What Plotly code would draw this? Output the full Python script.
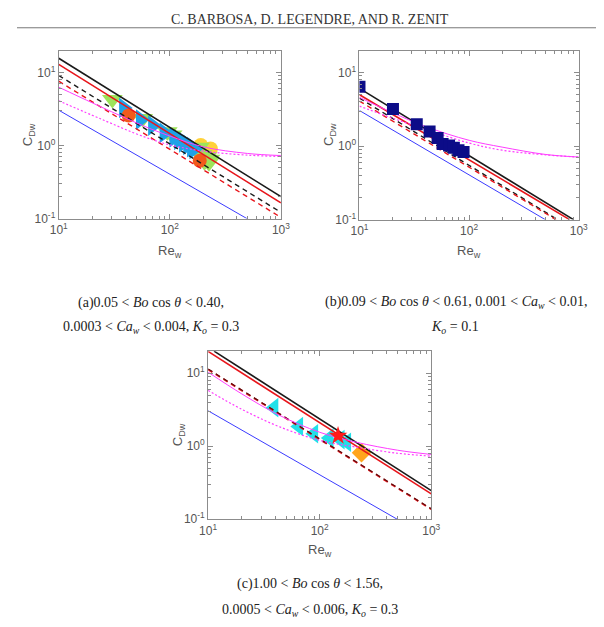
import plotly.graph_objects as go

# ---------------- data ----------------
RE_ENDS = [10, 1000]

# Panel (a) correlation lines (C_Dw at Re_w = 10 and 1000)
a_black = [15.7, 0.20]
a_red = [12.9, 0.164]
a_black_dash = [9.1, 0.122]
a_red_dash = [7.6, 0.104]
a_mag_re = [10, 20, 30, 57, 100, 200, 500, 1000]
a_mag_solid = [6.3, 3.85, 2.9, 1.88, 1.35, 0.96, 0.78, 0.73]
a_mag_dot_re = [10, 20, 30, 47, 70, 100, 200, 500, 1000]
a_mag_dot = [4.1, 2.6, 2.0, 1.5, 1.2, 1.02, 0.84, 0.74, 0.71]
blue_re = [10, 495]
blue_c = [3.05, 0.1]

# Panel (a) measurements
a_yel_re = [190, 232]
a_yel_c = [1.0, 0.9]
a_grn_re = [30.4, 57, 95, 105, 175, 195, 215, 230, 205, 225, 185]
a_grn_c = [4.27, 2.35, 1.55, 1.4, 0.85, 0.75, 0.7, 0.65, 0.6, 0.58, 0.95]
a_blu_re = [38.4, 54.5, 70, 89, 109, 120, 133, 145, 157, 165]
a_blu_c = [3.28, 2.27, 1.88, 1.49, 1.3, 1.2, 1.11, 1.02, 0.95, 0.9]
a_org_re = [42.6, 186]
a_org_c = [2.58, 0.62]

# Panel (b) correlation lines
b_black_re, b_black = [10, 895], [6.1, 0.1]
b_red_re, b_red = [10, 826], [5.0, 0.1]
b_bdash_re, b_bdash = [10, 640], [4.5, 0.1]
b_rdash_re, b_rdash = [10, 620], [4.1, 0.1]
b_mag_re = [10, 20, 40, 100, 200, 500, 1000]
b_mag_solid = [4.6, 2.85, 1.85, 1.2, 0.97, 0.77, 0.71]
b_mag_dot = [3.5, 2.4, 1.7, 1.1, 0.88, 0.76, 0.71]

# Panel (b) measurements
b_sq_re = [10, 20.2, 33.3, 43.6, 51.6, 57.3, 65.6, 72.6, 80, 89]
b_sq_c = [6.45, 3.21, 1.98, 1.58, 1.29, 1.07, 1.02, 0.95, 0.88, 0.83]

# Panel (c) correlation lines
c_black_re, c_black = [11.3, 1000], [20.0, 0.246]
c_red = [19.8, 0.222]
c_red_dash = [11.2, 0.137]
c_black_dash = [11.4, 0.139]
c_mag_re = [10, 20, 43, 100, 214, 500, 1000]
c_mag_solid = [10.3, 5.2, 2.67, 1.55, 1.13, 0.88, 0.77]
c_mag_dot = [5.8, 3.2, 1.86, 1.2, 0.97, 0.8, 0.73]

# Panel (c) measurements
c_tri_re = [39, 65, 88.7, 122, 153, 175]
c_tri_c = [3.37, 1.86, 1.48, 1.29, 1.23, 1.13]
c_star_re, c_star_c = [146], [1.39]
c_dia_re, c_dia_c = [237], [0.81]

XT_VALS = [10, 100, 1000]
XT_TEXT = ["10<sup>1</sup>", "10<sup>2</sup>", "10<sup>3</sup>"]
YT_VALS = [0.1, 1, 10]
YT_TEXT = ["10<sup>-1</sup>", "10<sup>0</sup>", "10<sup>1</sup>"]

# ---------------- style ----------------
FRAME = "#8c8c8c"
TXT = "#555555"
SANS = "Liberation Sans, Arial, sans-serif"
SERIF = "Liberation Serif, Times New Roman, serif"
BLACK = "#1a1a1a"
RED = "#e8151b"
MAG = "#ff3cff"
BLUE = "#3b3bff"

fig = go.Figure()


def line(xs, ys, color, width, dash, ax, shape="linear"):
    fig.add_trace(go.Scatter(x=xs, y=ys, mode="lines",
                             line=dict(color=color, width=width, dash=dash,
                                       shape=shape, smoothing=1.0),
                             xaxis="x" + ax, yaxis="y" + ax, showlegend=False,
                             hoverinfo="skip"))


def pts(xs, ys, symbol, color, size, ax):
    fig.add_trace(go.Scatter(x=xs, y=ys, mode="markers",
                             marker=dict(symbol=symbol, color=color, size=size,
                                         line=dict(width=0)),
                             xaxis="x" + ax, yaxis="y" + ax, showlegend=False))


# Panel a (axis suffix "")
pts(a_yel_re, a_yel_c, "circle", "#ffd23a", 15, "")
pts(a_grn_re, a_grn_c, "triangle-down", "#9ee35a", 18, "")
pts(a_blu_re, a_blu_c, "triangle-right", "#1ea2e8", 18, "")
pts(a_org_re, a_org_c, "circle", "#f25a1c", 14, "")
line(RE_ENDS, a_black, BLACK, 1.6, "solid", "")
line(RE_ENDS, a_red, RED, 1.6, "solid", "")
line(RE_ENDS, a_black_dash, BLACK, 1.4, "5px,4px", "")
line(RE_ENDS, a_red_dash, RED, 1.4, "5px,4px", "")
line(a_mag_re, a_mag_solid, MAG, 1.0, "solid", "", "spline")
line(a_mag_dot_re, a_mag_dot, MAG, 1.2, "2px,2px", "", "spline")
line(blue_re, blue_c, BLUE, 1.0, "solid", "")

# Panel b
line(b_black_re, b_black, BLACK, 1.6, "solid", "2")
line(b_red_re, b_red, RED, 1.6, "solid", "2")
line(b_bdash_re, b_bdash, BLACK, 1.4, "5px,4px", "2")
line(b_rdash_re, b_rdash, RED, 1.4, "5px,4px", "2")
line(b_mag_re, b_mag_solid, MAG, 1.0, "solid", "2", "spline")
line(b_mag_re, b_mag_dot, MAG, 1.2, "2px,2px", "2", "spline")
line(blue_re, blue_c, BLUE, 1.0, "solid", "2")
pts(b_sq_re, b_sq_c, "square", "#0c0c88", 12, "2")

# Panel c
pts(c_tri_re, c_tri_c, "triangle-left", "#22e0e8", 17, "3")
pts(c_dia_re, c_dia_c, "diamond", "#ffa51c", 15, "3")
line(c_black_re, c_black, BLACK, 1.6, "solid", "3")
line(RE_ENDS, c_red, RED, 1.6, "solid", "3")
line(RE_ENDS, c_red_dash, RED, 1.8, "5px,4px", "3")
line(RE_ENDS, c_black_dash, "#5a0d0d", 1.2, "5px,4px", "3")
line(c_mag_re, c_mag_solid, MAG, 1.0, "solid", "3", "spline")
line(c_mag_re, c_mag_dot, MAG, 1.2, "2px,2px", "3", "spline")
line(blue_re, blue_c, BLUE, 1.0, "solid", "3")
pts(c_star_re, c_star_c, "star", "#ff1a1a", 14, "3")

W, H = 604, 627
minor_x = [v * m for v in (10, 100) for m in range(2, 10)]
minor_y = [v * m for v in (0.1, 1, 10) for m in range(2, 10)]


def xaxis(x0, x1, anchor):
    return dict(type="log", range=[1, 3], domain=[x0 / W, x1 / W], anchor=anchor,
                showline=True, linecolor=FRAME, linewidth=1, mirror="allticks",
                ticks="inside", ticklen=5, tickcolor=FRAME, tickwidth=1,
                tickvals=XT_VALS, ticktext=XT_TEXT,
                tickfont=dict(family=SANS, size=12, color=TXT),
                showgrid=False, zeroline=False,
                minor=dict(ticks="inside", ticklen=3, tickcolor=FRAME,
                           tickvals=minor_x, showgrid=False))


def yaxis(top, bottom, anchor):
    return dict(type="log", range=[-1, 1.301], domain=[1 - bottom / H, 1 - top / H],
                anchor=anchor, showline=True, linecolor=FRAME, linewidth=1,
                mirror="allticks", ticks="inside", ticklen=5, tickcolor=FRAME,
                tickwidth=1, tickvals=YT_VALS, ticktext=YT_TEXT,
                tickfont=dict(family=SANS, size=12, color=TXT),
                showgrid=False, zeroline=False,
                minor=dict(ticks="inside", ticklen=3, tickcolor=FRAME,
                           tickvals=minor_y, showgrid=False))


def ann(text, x, y, size, family=SANS, color=TXT, angle=0):
    return dict(text=text, x=x / W, y=1 - y / H, xref="paper", yref="paper",
                showarrow=False, font=dict(family=family, size=size, color=color),
                textangle=angle, xanchor="center", yanchor="middle")


annotations = [
    ann("C. BARBOSA, D. LEGENDRE, AND R. ZENIT", 302, 12, 14, SERIF, "#333333"),
    # axis titles
    ann("C<sub>Dw</sub>", 12, 128, 13, angle=-90),
    ann("Re<sub>w</sub>", 158, 246, 13),
    ann("C<sub>Dw</sub>", 322, 128, 13, angle=-90),
    ann("Re<sub>w</sub>", 466, 246, 13),
    ann("C<sub>Dw</sub>", 166, 432, 13, angle=-90),
    ann("Re<sub>w</sub>", 312, 549, 13),
    # captions
    ann("(a)0.05 &lt; <i>Bo</i> cos <i>θ</i> &lt; 0.40,", 138, 298, 14, SERIF, "#222"),
    ann("0.0003 &lt; <i>Ca<sub>w</sub></i> &lt; 0.004, <i>K<sub>o</sub></i> = 0.3", 138, 323, 14, SERIF, "#222"),
    ann("(b)0.09 &lt; <i>Bo</i> cos <i>θ</i> &lt; 0.61, 0.001 &lt; <i>Ca<sub>w</sub></i> &lt; 0.01,", 452, 298, 14, SERIF, "#222"),
    ann("<i>K<sub>o</sub></i> = 0.1", 451, 323, 14, SERIF, "#222"),
    ann("(c)1.00 &lt; <i>Bo</i> cos <i>θ</i> &lt; 1.56,", 302, 583, 14, SERIF, "#222"),
    ann("0.0005 &lt; <i>Ca<sub>w</sub></i> &lt; 0.006, <i>K<sub>o</sub></i> = 0.3", 302, 609, 14, SERIF, "#222"),
]

fig.update_layout(
    width=W, height=H,
    margin=dict(l=0, r=0, t=0, b=0),
    paper_bgcolor="white", plot_bgcolor="white",
    showlegend=False,
    xaxis=xaxis(43, 272, "y"), yaxis=yaxis(43, 213, "x"),
    xaxis2=xaxis(353, 579, "y2"), yaxis2=yaxis(43, 214, "x2"),
    xaxis3=xaxis(197, 427, "y3"), yaxis3=yaxis(347, 517, "x3"),
    annotations=annotations,
    shapes=[dict(type="line", xref="paper", yref="paper", x0=0, x1=597 / W,
                 y0=1 - 20 / H, y1=1 - 20 / H, line=dict(color="#777", width=1))],
)

fig.write_html("out.html")
